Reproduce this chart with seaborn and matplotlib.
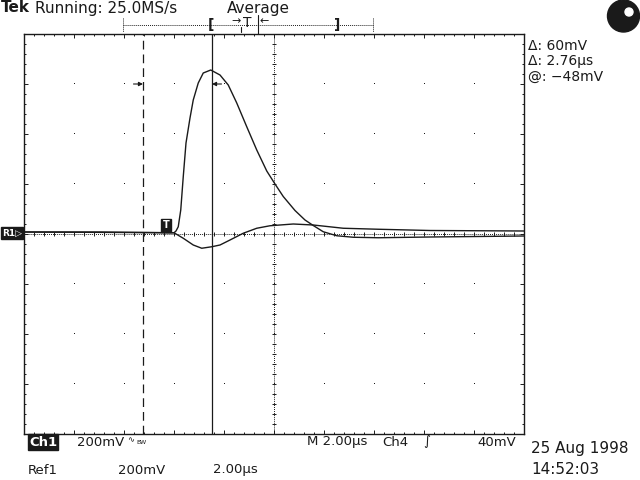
import numpy as np
import matplotlib
matplotlib.use("Agg")
import matplotlib.pyplot as plt
from matplotlib.patches import Circle
import seaborn as sns

# Ch1 trace (time in us from left edge of screen, mV)
ch1_t_us = [0, 3.0, 6.0, 6.08, 6.17, 6.27, 6.37, 6.48, 6.64, 6.77, 6.97, 7.17, 7.47,
            7.84, 8.17, 8.51, 8.91, 9.31, 9.71, 10.04, 10.37, 10.84, 11.24, 11.57,
            11.97, 12.51, 13.17, 14.17, 16.24, 20.0]
ch1_mv = [8, 8, 5, 12, 29, 96, 229, 364, 464, 536, 604, 644, 656,
          636, 596, 524, 429, 336, 252, 200, 150, 94, 56, 34,
          9, -7, -13, -15, -12, -8]

# Ref1 trace
ref1_t_us = [0, 6.0, 6.37, 6.77, 7.11, 7.51, 7.84, 8.24, 8.77, 9.31, 9.84, 10.77,
             11.57, 12.77, 14.17, 16.24, 20.0]
ref1_mv = [8, 5, -17, -44, -57, -51, -44, -24, 3, 23, 33, 40,
           36, 23, 19, 14, 12]

# cursors and readouts
cursor_t_us = [4.76, 7.52]
readouts = ["\u0394: 60mV", "\u0394: 2.76\u00b5s", "@: \u221248mV"]

sns.set_theme(style="white")
plt.rcParams['font.family'] = ['DejaVu Sans']
plt.rcParams['text.color'] = 'k'

fig = plt.figure(figsize=(6.4, 4.8), dpi=100)
ax = fig.add_axes([24 / 640, 46 / 480, 500 / 640, 400 / 480])

# graticule
ax.set_xlim(0, 20)
ax.set_ylim(-800, 800)
ax.set_xticks(np.arange(0, 20.01, 2))
ax.set_xticks(np.arange(0, 20.01, 0.4), minor=True)
ax.set_yticks(np.arange(-800, 801, 200))
ax.set_yticks(np.arange(-800, 801, 40), minor=True)
ax.tick_params(which='both', direction='in', top=True, right=True, bottom=True, left=True,
               labelbottom=False, labelleft=False, color='k', width=0.7)
ax.tick_params(which='major', length=2.6)
ax.tick_params(which='minor', length=1.2)
for s in ax.spines.values():
    s.set_color('k')
    s.set_linewidth(1.0)
ax.grid(False)

gx, gy = np.meshgrid(np.arange(2, 20, 2), np.arange(-600, 601, 200))
ax.plot(gx.ravel(), gy.ravel(), ',', color='k')
ax.axhline(0, color='k', lw=0.7, dashes=(1, 1.1), zorder=1)
ax.axvline(10, color='k', lw=0.7, dashes=(1, 1.1), zorder=1)
mx = np.arange(0.4, 20, 0.4)
my = np.arange(-760, 800, 40)
ax.plot(mx, np.zeros_like(mx), '|', color='k', ms=3, mew=0.7)
ax.plot(np.full_like(my, 10.0, dtype=float), my, '_', color='k', ms=3, mew=0.7)

# traces
sns.lineplot(x=ch1_t_us, y=ch1_mv, ax=ax, color='k', lw=1.0, estimator=None, zorder=3)
sns.lineplot(x=ref1_t_us, y=ref1_mv, ax=ax, color='k', lw=1.0, estimator=None, zorder=3)

# cursors
ax.axvline(cursor_t_us[0], color='k', lw=0.9, dashes=(7, 4), zorder=2)
ax.axvline(cursor_t_us[1], color='k', lw=0.9, zorder=2)
ax.annotate('', xy=(cursor_t_us[0], 600), xytext=(cursor_t_us[0] - 0.38, 600),
            arrowprops=dict(arrowstyle='-|>', lw=0.8, color='k', mutation_scale=6,
                            shrinkA=0, shrinkB=0))
ax.annotate('', xy=(cursor_t_us[1], 600), xytext=(cursor_t_us[1] + 0.38, 600),
            arrowprops=dict(arrowstyle='-|>', lw=0.8, color='k', mutation_scale=6,
                            shrinkA=0, shrinkB=0))

# overlay in screen pixels for the scope annotations
ov = fig.add_axes([0, 0, 1, 1])
ov.set_xlim(0, 640)
ov.set_ylim(480, 0)
ov.axis('off')

ov.text(1, 8, 'Tek', fontsize=11, fontweight='bold', va='center')
ov.text(35, 8, 'Running: 25.0MS/s', fontsize=11, va='center')
ov.text(227, 8, 'Average', fontsize=11, va='center')

# record bar
ov.plot([123, 373], [25, 25], color='k', lw=0.7, dashes=(1, 1.1))
ov.plot([123, 123], [18, 32], color='k', lw=0.7, dashes=(1, 1.1))
ov.plot([373, 373], [18, 32], color='k', lw=0.7, dashes=(1, 1.1))
ov.text(211, 25, '[', fontsize=10, fontweight='bold', va='center', ha='center')
ov.text(337, 25, ']', fontsize=10, fontweight='bold', va='center', ha='center')
ov.text(236, 21, '\u2192', fontsize=8, va='center', ha='center')
ov.plot([241, 241], [27, 32], color='k', lw=0.8)
ov.text(247, 23, 'T', fontsize=10, va='center', ha='center')
ov.plot([258, 258], [15, 34], color='k', lw=0.8)
ov.text(264, 21, '\u2190', fontsize=8, va='center', ha='center')

ov.add_patch(Circle((623.5, 16), 16, color='k'))
ov.add_patch(Circle((629, 12), 4, color='w'))

for i, r in enumerate(readouts):
    ov.text(528, 46 + 15.5 * i, r, fontsize=10, va='center')

# trace markers
ov.text(166, 225.5, 'T', fontsize=7, fontweight='bold', color='w', va='center', ha='center',
        bbox=dict(facecolor='k', edgecolor='k', pad=1.2))
ov.text(2, 233, 'R1\u25b7', fontsize=6.5, fontweight='bold', color='w', va='center',
        bbox=dict(facecolor='k', edgecolor='k', pad=0.8))

# bottom status lines
ov.text(29, 442, 'Ch1', fontsize=9.5, fontweight='bold', color='w', va='center',
        bbox=dict(facecolor='k', edgecolor='k', pad=0.8))
ov.text(77, 442, '200mV', fontsize=9.5, va='center')
ov.text(127, 440, '\u223f', fontsize=6, va='center')
ov.text(136, 443, 'BW', fontsize=4.5, va='center')
ov.text(307, 442, 'M 2.00\u00b5s', fontsize=9.5, va='center')
ov.text(382, 442, 'Ch4', fontsize=9.5, va='center')
ov.text(423, 442, '\u222b', fontsize=9.5, va='center', fontstyle='italic')
ov.text(516, 442, '40mV', fontsize=9.5, va='center', ha='right')
ov.text(28, 470, 'Ref1', fontsize=9.5, va='center')
ov.text(118, 470, '200mV', fontsize=9.5, va='center')
ov.text(213, 470, '2.00\u00b5s', fontsize=9.5, va='center')
ov.text(531, 449, '25 Aug 1998', fontsize=11, va='center')
ov.text(531, 469, '14:52:03', fontsize=11, va='center')

fig.savefig('out.png', dpi=100)
